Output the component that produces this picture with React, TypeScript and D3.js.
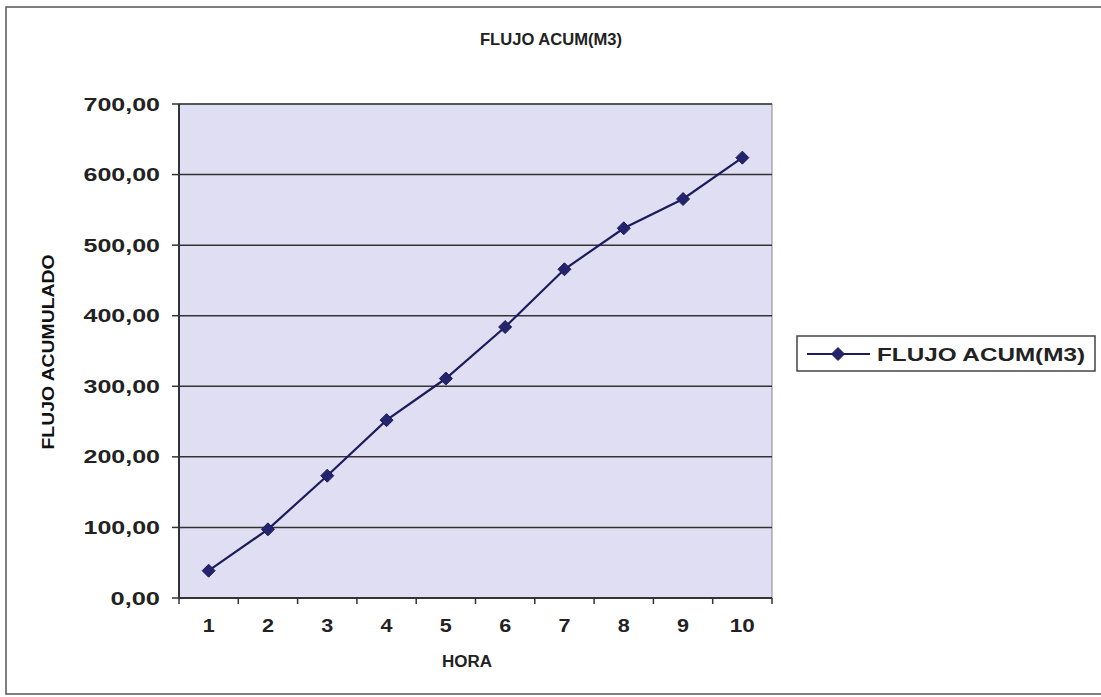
import React from "react";
import * as d3 from "d3";

const horas = ["1", "2", "3", "4", "5", "6", "7", "8", "9", "10"];
const flujoAcum = [38.7, 97.3, 173.3, 252, 311, 384, 465.8, 523.9, 565.4, 624];
const yTicks = [0, 100, 200, 300, 400, 500, 600, 700];
const title = "FLUJO ACUM(M3)";
const xTitle = "HORA";
const yTitle = "FLUJO ACUMULADO";
const seriesName = "FLUJO ACUM(M3)";

const W = 1101;
const H = 697;
const plot = { left: 179, right: 772, top: 104, bottom: 598 };
const FONT = "'Liberation Sans', Arial, sans-serif";
const TXT = "#222";
const NAVY = "#1c1c5a";

export default function App() {
  const x = d3.scaleBand<string>().domain(horas).range([plot.left, plot.right]);
  const y = d3.scaleLinear().domain([0, 700]).range([plot.bottom, plot.top]);
  const cx = (h: string) => (x(h) as number) + x.bandwidth() / 2;
  const line = d3
    .line<number>()
    .x((_, i) => cx(horas[i]))
    .y((d) => y(d));
  const diamond = (px: number, py: number, r: number) =>
    `M${px},${py - r}L${px + r},${py}L${px},${py + r}L${px - r},${py}Z`;

  const fmt = (v: number) => d3.format(".2f")(v).replace(".", ",");
  const labLen = (s: string) =>
    s.split("").reduce((a, c) => a + (c === "," ? 9 : 13.5), 0);

  return (
    <svg
      width={W}
      height={H}
      style={{ position: "absolute", left: 0, top: 0, background: "#fff" }}
    >
      <rect x={6} y={7} width={1100} height={687} fill="#fff" stroke="#555" strokeWidth={1.5} />
      {/* title */}
      <text
        x={551}
        y={45}
        textAnchor="middle"
        fontFamily={FONT}
        fontWeight="bold"
        fontSize={17}
        fill={TXT}
        textLength={142}
        lengthAdjust="spacingAndGlyphs"
      >
        {title}
      </text>
      {/* plot area */}
      <rect
        x={plot.left}
        y={plot.top}
        width={plot.right - plot.left}
        height={plot.bottom - plot.top}
        fill="#e0def2"
        stroke="#888"
        strokeWidth={1}
      />
      {/* grid lines */}
      {yTicks.slice(1).map((t) => (
        <line
          key={"g" + t}
          x1={plot.left}
          x2={plot.right}
          y1={y(t)}
          y2={y(t)}
          stroke="#333"
          strokeWidth={1.5}
        />
      ))}
      {/* y axis */}
      <line x1={plot.left} x2={plot.left} y1={plot.top} y2={plot.bottom} stroke="#333" strokeWidth={2} />
      {yTicks.map((t) => (
        <g key={"yt" + t}>
          <line x1={plot.left - 7} x2={plot.left} y1={y(t)} y2={y(t)} stroke="#333" strokeWidth={1.5} />
          <text
            x={160}
            y={y(t) + 6.5}
            textAnchor="end"
            fontFamily={FONT}
            fontWeight="bold"
            fontSize={18}
            fill={TXT}
            textLength={labLen(fmt(t))}
            lengthAdjust="spacingAndGlyphs"
          >
            {fmt(t)}
          </text>
        </g>
      ))}
      {/* x axis */}
      <line x1={plot.left} x2={plot.right} y1={plot.bottom} y2={plot.bottom} stroke="#333" strokeWidth={2} />
      {horas.map((h) => (
        <line
          key={"xt" + h}
          x1={x(h) as number}
          x2={x(h) as number}
          y1={plot.bottom}
          y2={plot.bottom + 6}
          stroke="#333"
          strokeWidth={1.5}
        />
      ))}
      <line x1={plot.right} x2={plot.right} y1={plot.bottom} y2={plot.bottom + 6} stroke="#333" strokeWidth={1.5} />
      {horas.map((h) => (
        <text
          key={"xl" + h}
          x={cx(h)}
          y={632}
          textAnchor="middle"
          fontFamily={FONT}
          fontWeight="bold"
          fontSize={19}
          fill={TXT}
          textLength={h.length === 1 ? 12 : 25}
          lengthAdjust="spacingAndGlyphs"
        >
          {h}
        </text>
      ))}
      {/* axis titles */}
      <text
        x={467}
        y={667}
        textAnchor="middle"
        fontFamily={FONT}
        fontWeight="bold"
        fontSize={16}
        fill={TXT}
        textLength={50}
        lengthAdjust="spacingAndGlyphs"
      >
        {xTitle}
      </text>
      <text
        transform={`translate(54,352) rotate(-90)`}
        textAnchor="middle"
        fontFamily={FONT}
        fontWeight="bold"
        fontSize={16}
        fill="#111"
        textLength={195}
        lengthAdjust="spacingAndGlyphs"
      >
        {yTitle}
      </text>
      {/* series */}
      <path d={line(flujoAcum) || ""} fill="none" stroke={NAVY} strokeWidth={2.2} />
      {flujoAcum.map((v, i) => (
        <path key={"m" + i} d={diamond(cx(horas[i]), y(v), 6.5)} fill="#23236e" stroke={NAVY} strokeWidth={1} />
      ))}
      {/* legend */}
      <rect x={797} y={336} width={298} height={35} fill="#fff" stroke="#444" strokeWidth={1.5} />
      <line x1={807} x2={870} y1={354} y2={354} stroke={NAVY} strokeWidth={2.2} />
      <path d={diamond(838, 354, 6.5)} fill="#23236e" stroke={NAVY} strokeWidth={1} />
      <text
        x={877}
        y={361}
        fontFamily={FONT}
        fontWeight="bold"
        fontSize={19}
        fill={TXT}
        textLength={208}
        lengthAdjust="spacingAndGlyphs"
      >
        {seriesName}
      </text>
    </svg>
  );
}
